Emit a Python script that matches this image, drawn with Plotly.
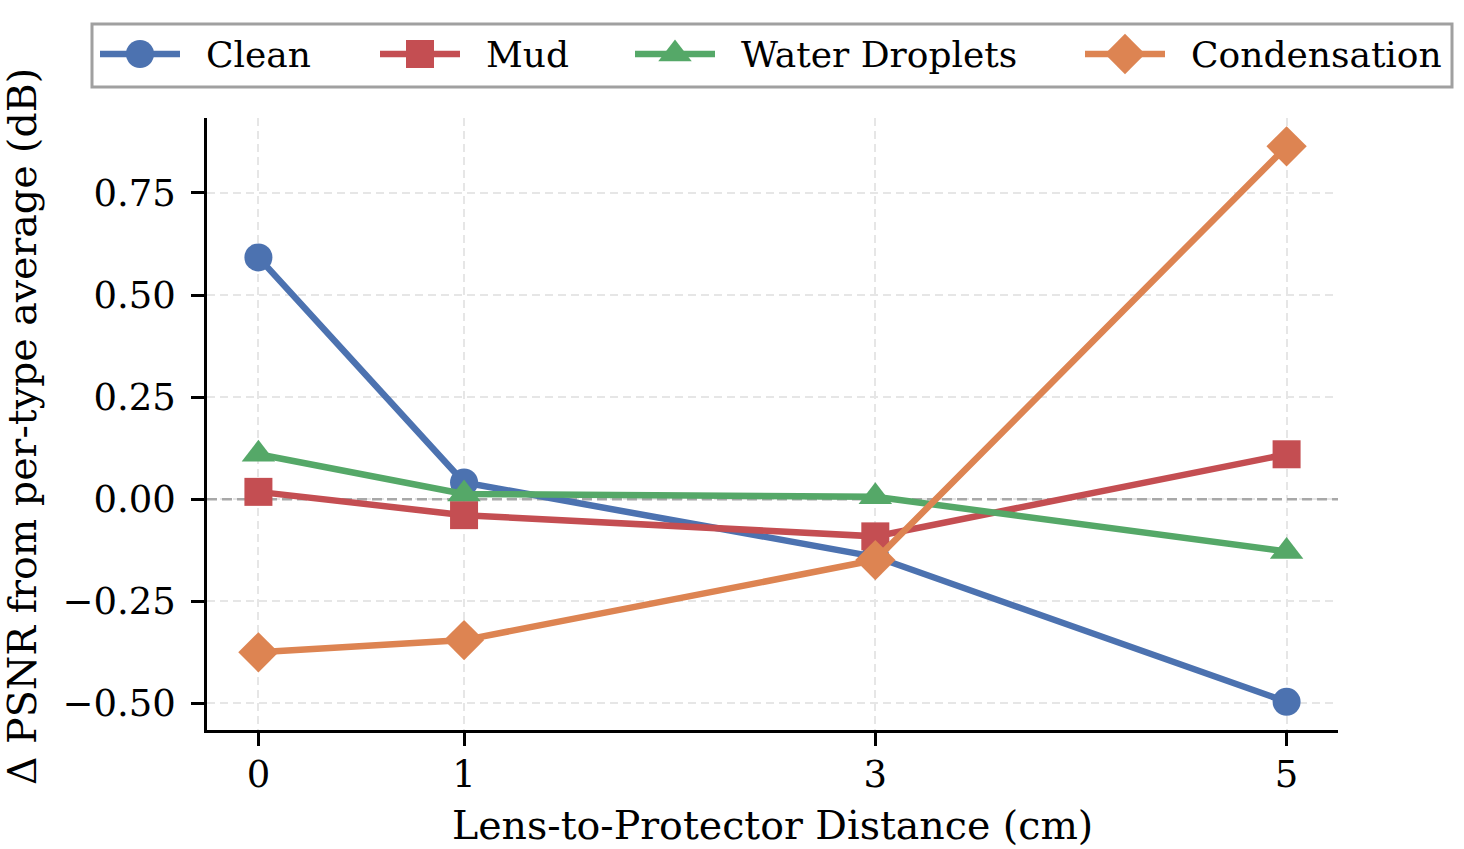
import plotly.graph_objects as go

distances = [0, 1, 3, 5]
series_names = ["Clean", "Mud", "Water Droplets", "Condensation"]
clean = [0.592, 0.041, -0.141, -0.496]
mud = [0.018, -0.039, -0.091, 0.110]
water = [0.110, 0.013, 0.006, -0.128]
condensation = [-0.375, -0.345, -0.149, 0.864]
y_ticks = [-0.50, -0.25, 0.00, 0.25, 0.50, 0.75]
x_title = "Lens-to-Protector Distance (cm)"
y_title = "Δ PSNR from per-type average (dB)"

colors = ["#4C72B0", "#C44E52", "#55A868", "#DD8452"]
symbols = ["circle", "square", "triangle-up", "diamond"]
msizes = [28, 28, 29, 31]
values = [clean, mud, water, condensation]

W, H = 1464, 849
PL, PR, PT, PB = 207, 1338, 118, 730  # plot area in pixels
FONT = "DejaVu Serif"
x_range = [-0.25, 5.25]
y_range = [-0.5651, 0.9334]

# legend layout (pixels)
leg_box = (92, 24, 1452, 87)
leg_starts = [100, 380, 635, 1085]
leg_line_len = 80
leg_text_gap = 24
leg_y = 54

fig = go.Figure()

# zero reference line (dashed), below the data
fig.add_trace(go.Scatter(
    x=x_range, y=[0, 0], mode="lines",
    line=dict(color="#a8a8a8", width=2.5, dash="10px,5px"),
    showlegend=False, hoverinfo="skip", cliponaxis=False,
))

for name, vals, c, s, ms in zip(series_names, values, colors, symbols, msizes):
    fig.add_trace(go.Scatter(
        x=distances, y=vals, name=name, mode="lines+markers",
        line=dict(color=c, width=6.5),
        marker=dict(symbol=s, size=ms, color=c, line=dict(width=0)),
        showlegend=False, xaxis="x", yaxis="y",
    ))

# manual legend on an overlay pixel-coordinate axis
for name, c, s, ms, x0 in zip(series_names, colors, symbols, msizes, leg_starts):
    fig.add_trace(go.Scatter(
        x=[x0, x0 + leg_line_len], y=[leg_y, leg_y], mode="lines",
        line=dict(color=c, width=6.5), showlegend=False, hoverinfo="skip",
        xaxis="x2", yaxis="y2",
    ))
    fig.add_trace(go.Scatter(
        x=[x0 + leg_line_len / 2], y=[leg_y], mode="markers",
        marker=dict(symbol=s, size=ms, color=c, line=dict(width=0)),
        showlegend=False, hoverinfo="skip", xaxis="x2", yaxis="y2",
    ))
    fig.add_annotation(
        x=x0 + leg_line_len + leg_text_gap, y=leg_y, xref="x2", yref="y2",
        text=name, showarrow=False, xanchor="left", yanchor="middle",
        font=dict(family=FONT, size=36, color="black"),
    )

fig.add_shape(type="rect", xref="x2", yref="y2",
              x0=leg_box[0], y0=leg_box[1], x1=leg_box[2], y1=leg_box[3],
              line=dict(color="#a0a0a0", width=3), fillcolor="white", layer="below")

# axis titles
fig.add_annotation(x=(PL + PR) / 2, y=825, xref="x2", yref="y2", text=x_title,
                   showarrow=False, xanchor="center", yanchor="middle",
                   font=dict(family=FONT, size=39.5, color="black"))
fig.add_annotation(x=22, y=(PT + PB) / 2 + 3, xref="x2", yref="y2", text=y_title,
                   showarrow=False, xanchor="center", yanchor="middle", textangle=-90,
                   font=dict(family=FONT, size=39.5, color="black"))

axis_common = dict(
    showline=True, linecolor="black", linewidth=2.5, mirror=False,
    ticks="outside", ticklen=13, tickwidth=2.5, tickcolor="black",
    showgrid=True, gridcolor="#e6e6e6", gridwidth=2, griddash="8px,5px",
    zeroline=False, automargin=False,
    tickfont=dict(family=FONT, size=37, color="black"),
)

fig.update_layout(
    width=W, height=H,
    margin=dict(l=0, r=0, t=0, b=0),
    plot_bgcolor="rgba(0,0,0,0)", paper_bgcolor="white",
    font=dict(family=FONT, size=36, color="black"),
    showlegend=False,
    xaxis=dict(
        domain=[PL / W, PR / W], anchor="y",
        range=x_range, tickmode="array", tickvals=distances,
        ticktext=[str(d) for d in distances], ticklabelstandoff=-3, **axis_common,
    ),
    yaxis=dict(
        domain=[(H - PB) / H, (H - PT) / H], anchor="x",
        range=y_range, tickmode="array", tickvals=y_ticks,
        tickformat=".2f", ticklabelstandoff=8, **axis_common,
    ),
    xaxis2=dict(domain=[0, 1], anchor="y2", range=[0, W], visible=False, fixedrange=True),
    yaxis2=dict(domain=[0, 1], anchor="x2", range=[H, 0], visible=False, fixedrange=True),
)

fig.write_html("out.html")
